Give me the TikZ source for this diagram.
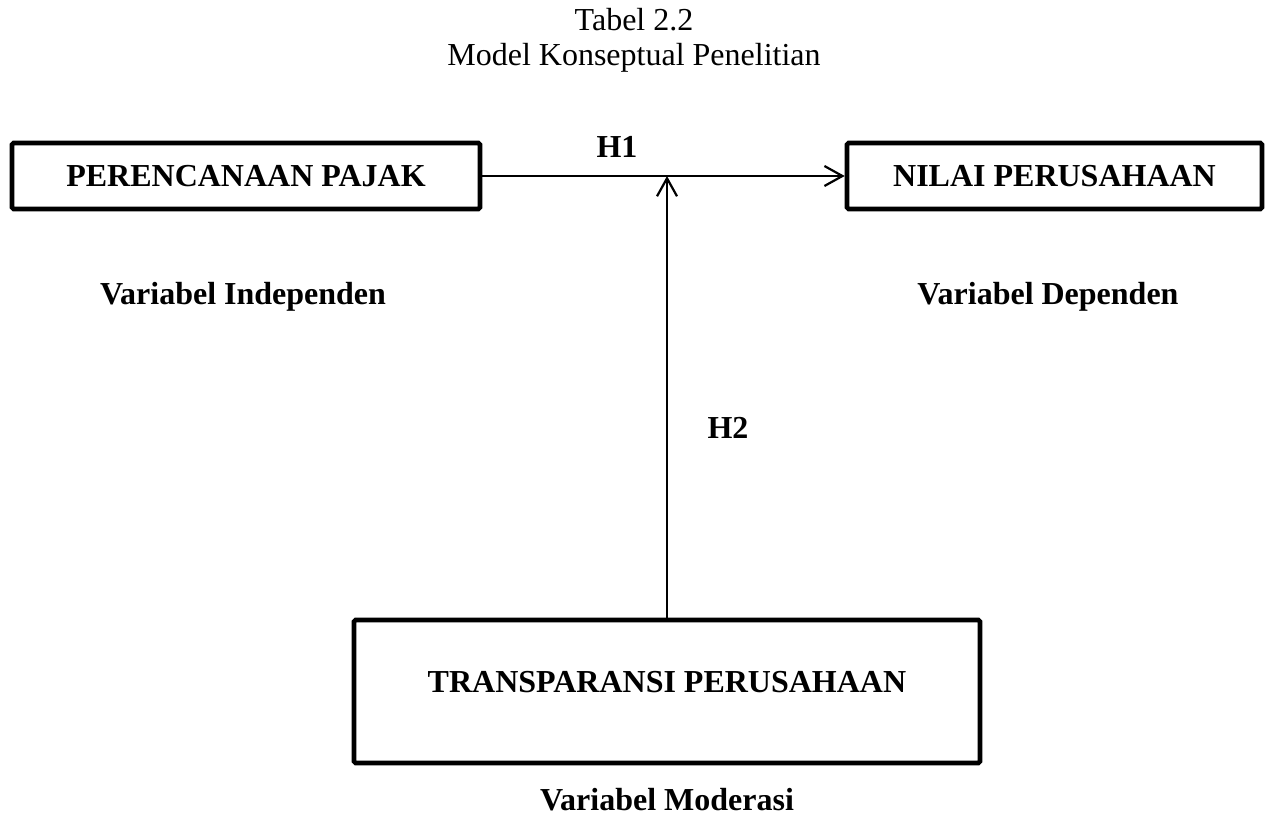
\documentclass[tikz,border=0pt]{standalone}
\usepackage{fontspec}
\setmainfont{Liberation Serif}
\usetikzlibrary{arrows.meta}
\tikzset{
  varbox/.style={draw=black, line width=2.3pt, rounded corners=0.8pt, inner sep=0pt, font=\fontsize{16}{19}\selectfont\bfseries},
  lbl/.style={inner sep=0pt, font=\fontsize{16}{19}\selectfont\bfseries},
  ttl/.style={inner sep=0pt, font=\fontsize{16}{19}\selectfont},
  arr/.style={line width=1.1pt, -{Straight Barb[length=9pt,width=10pt]}}
}
\begin{document}
\begin{tikzpicture}[x=0.5pt,y=-0.5pt]
\useasboundingbox[fill=white] (0,0) rectangle (1267,820);
\node[ttl, anchor=base] (t1) at (634,30) {Tabel 2.2};
\node[ttl, anchor=base] (t2) at (634,65) {Model Konseptual Penelitian};
\node[varbox, minimum width=234pt, minimum height=33pt] (pp) at (246,176) {PERENCANAAN PAJAK};
\node[varbox, minimum width=207.5pt, minimum height=33pt] (nv) at (1054.5,176) {NILAI PERUSAHAAN};
\node[varbox, minimum width=313pt, minimum height=71.5pt,
  label={[lbl, yshift=4.75pt]center:TRANSPARANSI PERUSAHAAN}] (tp) at (667,691.5) {};
\node[lbl] (h1) at (617,147) {H1};
\node[lbl] (h2) at (728,428) {H2};
\node[lbl] (vi) at (243,297) {Variabel Independen};
\node[lbl] (vd) at (1048,297) {Variabel Dependen};
\node[lbl] (vm) at (667,800) {Variabel Moderasi};
\draw[arr] (pp.east) -- (nv.west);
\draw[arr] (tp.north) -- (tp.north |- pp.east);
\end{tikzpicture}
\end{document}
